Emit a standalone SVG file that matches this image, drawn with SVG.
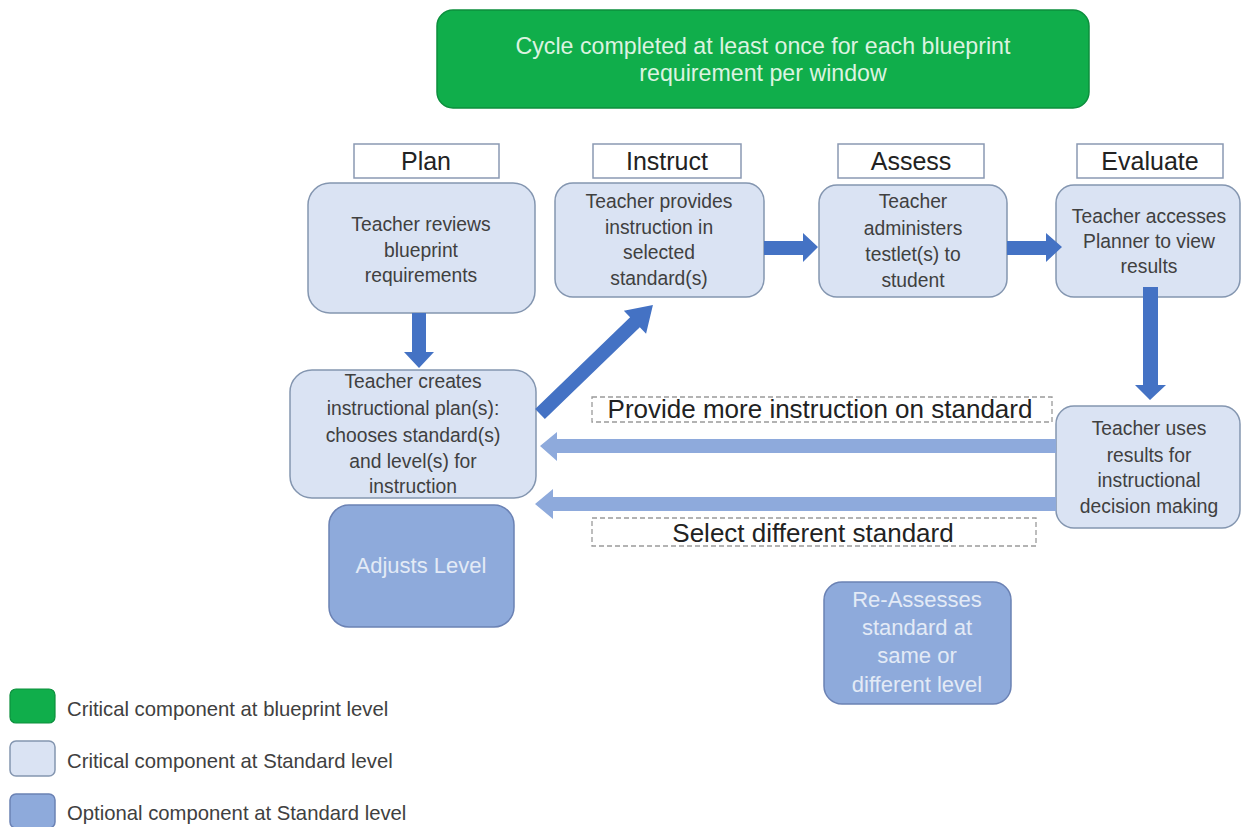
<svg xmlns="http://www.w3.org/2000/svg" width="1244" height="827" viewBox="0 0 1244 827">
<style>
text{font-family:"Liberation Sans",Arial,sans-serif;text-anchor:middle}
.node{fill:#dae3f3;stroke:#8496b0;stroke-width:1.5}
.opt{fill:#8eaadb;stroke:#6b82b4;stroke-width:1.5}
.hdr{fill:#fff;stroke:#8a99b3;stroke-width:1.5}
.dash{fill:none;stroke:#9a9a9a;stroke-width:1.3;stroke-dasharray:5 3}
.t{font-size:19.3px;fill:#404040}
.to{font-size:22px;fill:#e3eaf6}
.th{font-size:25px;fill:#222}
.tl{font-size:26px;fill:#222}
.lg{font-size:20.3px;fill:#404040;text-anchor:start}
.dark{fill:#4472c4}
.light{fill:#8eaadc}
</style>
<rect width="1244" height="827" fill="#fff"/>
<g id="cycle">
<rect x="437" y="10" width="652" height="98" rx="16" fill="#10ae4b" stroke="#0c8f3d" stroke-width="1.5"/>
<text x="763" y="54" style="font-size:23.2px;fill:#dcf3e0">Cycle completed at least once for each blueprint</text>
<text x="763" y="81" style="font-size:23.2px;fill:#dcf3e0">requirement per window</text>
</g>
<g id="hdr-plan"><rect class="hdr" x="354" y="144" width="145" height="34"/><text class="th" x="426" y="170">Plan</text></g>
<g id="hdr-instruct"><rect class="hdr" x="593" y="144" width="148" height="34"/><text class="th" x="667" y="170">Instruct</text></g>
<g id="hdr-assess"><rect class="hdr" x="838" y="144" width="146" height="34"/><text class="th" x="911" y="170">Assess</text></g>
<g id="hdr-evaluate"><rect class="hdr" x="1077" y="144" width="146" height="34"/><text class="th" x="1150" y="170">Evaluate</text></g>
<g id="n-review"><rect class="node" x="308" y="183" width="227" height="130" rx="22"/>
<text class="t" x="421" y="231">Teacher reviews</text><text class="t" x="421" y="257">blueprint</text><text class="t" x="421" y="282">requirements</text></g>
<g id="n-instruct"><rect class="node" x="555" y="183" width="209" height="114" rx="18"/>
<text class="t" x="659" y="208">Teacher provides</text><text class="t" x="659" y="234">instruction in</text><text class="t" x="659" y="259">selected</text><text class="t" x="659" y="285">standard(s)</text></g>
<g id="n-assess"><rect class="node" x="819" y="185" width="188" height="112" rx="18"/>
<text class="t" x="913" y="208">Teacher</text><text class="t" x="913" y="235">administers</text><text class="t" x="913" y="261">testlet(s) to</text><text class="t" x="913" y="287">student</text></g>
<g id="n-evaluate"><rect class="node" x="1056" y="185" width="184" height="112" rx="18"/>
<text class="t" x="1149" y="223">Teacher accesses</text><text class="t" x="1149" y="248">Planner to view</text><text class="t" x="1149" y="273">results</text></g>
<g id="n-create"><rect class="node" x="290" y="370" width="246" height="128" rx="22"/>
<text class="t" x="413" y="388">Teacher creates</text><text class="t" x="413" y="415">instructional plan(s):</text><text class="t" x="413" y="442">chooses standard(s)</text><text class="t" x="413" y="468">and level(s) for</text><text class="t" x="413" y="493">instruction</text></g>
<g id="n-uses"><rect class="node" x="1056" y="406" width="184" height="122" rx="18"/>
<text class="t" x="1149" y="435">Teacher uses</text><text class="t" x="1149" y="462">results for</text><text class="t" x="1149" y="487">instructional</text><text class="t" x="1149" y="513">decision making</text></g>
<g id="n-adjust"><rect class="opt" x="329" y="505" width="185" height="122" rx="20"/>
<text class="to" x="421" y="573">Adjusts Level</text></g>
<g id="n-reassess"><rect class="opt" x="824" y="582" width="187" height="122" rx="18"/>
<text class="to" x="917" y="607">Re-Assesses</text><text class="to" x="917" y="635">standard at</text><text class="to" x="917" y="663">same or</text><text class="to" x="917" y="692">different level</text></g>
<g id="connectors">
<polygon class="dark" points="412,313 426,313 426,352 434,352 419,368 404,352 412,352"/>
<g transform="translate(540,414) rotate(-44)"><polygon class="dark" points="0,-7 132,-7 132,-16 157,0 132,16 132,7 0,7"/></g>
<polygon class="dark" points="764,241 803,241 803,233 818,247 803,262 803,255 764,255"/>
<polygon class="dark" points="1007,241 1046,241 1046,233 1062,247 1046,262 1046,255 1007,255"/>
<polygon class="dark" points="1143,287 1158,287 1158,385 1166,385 1150,400 1135,385 1143,385"/>
<polygon class="light" points="1056,439 557,439 557,432 540,446 557,461 557,453 1056,453"/>
<polygon class="light" points="1056,497 553,497 553,489 535,504 553,519 553,511 1056,511"/>
</g>
<g id="lbl-more"><rect class="dash" x="592" y="397" width="460" height="25"/><text class="tl" x="820" y="418">Provide more instruction on standard</text></g>
<g id="lbl-different"><rect class="dash" x="592" y="518" width="444" height="28"/><text class="tl" x="813" y="542">Select different standard</text></g>
<g id="legend">
<rect x="10" y="689" width="45" height="34" rx="6" fill="#10ae4b" stroke="#0c8f3d" stroke-width="1.2"/>
<text class="lg" x="67" y="716">Critical component at blueprint level</text>
<rect x="10" y="741" width="45" height="35" rx="6" class="node"/>
<text class="lg" x="67" y="768">Critical component at Standard level</text>
<rect x="10" y="794" width="45" height="34" rx="6" class="opt"/>
<text class="lg" x="67" y="820">Optional component at Standard level</text>
</g>
</svg>
